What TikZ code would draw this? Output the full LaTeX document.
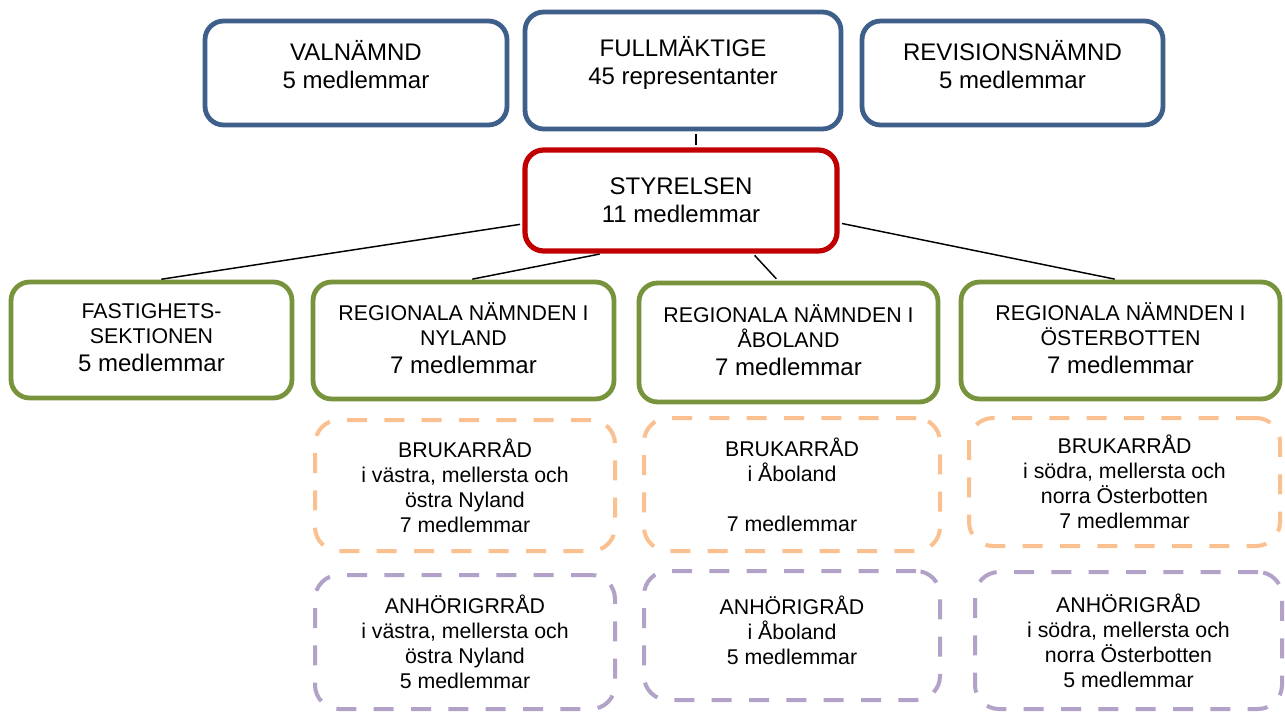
\documentclass[tikz,border=0pt]{standalone}
\usepackage{fontspec}
\setmainfont{Liberation Sans}
\usetikzlibrary{positioning}
\usetikzlibrary{calc}

\definecolor{boxblue}{HTML}{3E5F8A}
\definecolor{boxred}{HTML}{C00000}
\definecolor{boxgreen}{HTML}{77933C}
\definecolor{boxorange}{HTML}{FAC090}
\definecolor{boxpurple}{HTML}{B3A2C7}

\newcommand\bigtxt{\fontsize{18}{21}\selectfont}
\newcommand\smalltxt{\fontsize{16}{18.75}\selectfont}

\tikzset{
  orgbox/.style={draw, fill=white, rounded corners=14pt, line width=3.6pt, align=center, inner sep=0pt},
  topbox/.style={orgbox, draw=boxblue, font=\bigtxt, text depth=13.5pt},
  boardbox/.style={orgbox, draw=boxred, line width=3.9pt, font=\bigtxt},
  regbox/.style={orgbox, draw=boxgreen, font=\smalltxt, text depth=3pt},
  councilbox/.style={orgbox, rounded corners=18pt, line width=3pt, dash pattern=on 15pt off 13pt, font=\smalltxt},
  userbox/.style={councilbox, draw=boxorange},
  kinbox/.style={councilbox, draw=boxpurple},
  link/.style={line width=1.1pt, shorten <=1.8pt, shorten >=1.8pt}
}

\begin{document}
\begin{tikzpicture}[x=0.75pt, y=-0.75pt]
  % one unit is one pixel of the 1285 x 713 frame
  \def\px{0.75pt}
  \useasboundingbox (0,0) rectangle (1285,713);

  % top row
  \node[topbox, minimum width=302*\px, minimum height=104*\px] (val) at (356,73) {VALNÄMND\\5 medlemmar};
  \node[topbox, text depth=14.5pt, minimum width=316*\px, minimum height=117*\px] (ful) at (683,70.5) {FULLMÄKTIGE\\45 representanter};
  \node[topbox, minimum width=301*\px, minimum height=104*\px] (rev) at (1012.5,73) {REVISIONSNÄMND\\5 medlemmar};

  % board
  \node[boardbox, minimum width=312*\px, minimum height=101*\px] (sty) at (681,200.5) {STYRELSEN\\11 medlemmar};

  % sections and regional boards
  \node[regbox, minimum width=281*\px, minimum height=116*\px] (fast) at (151.5,340)
    {FASTIGHETS-\\SEKTIONEN\\[2.25pt]{\bigtxt 5 medlemmar}};
  \node[regbox, minimum width=301*\px, minimum height=117*\px] (nyl) at (463.5,340.5)
    {REGIONALA NÄMNDEN I\\NYLAND\\[2.25pt]{\bigtxt 7 medlemmar}};
  \node[regbox, minimum width=299*\px, minimum height=119*\px] (abo) at (788.5,342.5)
    {REGIONALA NÄMNDEN I\\ÅBOLAND\\[2.25pt]{\bigtxt 7 medlemmar}};
  \node[regbox, minimum width=319*\px, minimum height=117*\px] (ost) at (1120.5,340.5)
    {REGIONALA NÄMNDEN I\\ÖSTERBOTTEN\\[2.25pt]{\bigtxt 7 medlemmar}};

  % user councils
  \node[userbox, minimum width=300*\px, minimum height=131*\px] (bnyl) at (465,485.5)
    {BRUKARRÅD\\i västra, mellersta och\\östra Nyland\\7 medlemmar};
  \node[userbox, minimum width=296*\px, minimum height=133*\px] (babo) at (792,484.5)
    {BRUKARRÅD\\i Åboland\\ \\7 medlemmar};
  \node[userbox, minimum width=311*\px, minimum height=128*\px] (bost) at (1124.5,482)
    {BRUKARRÅD\\i södra, mellersta och\\norra Österbotten\\7 medlemmar};

  % relatives' councils
  \node[kinbox, minimum width=300*\px, minimum height=134*\px] (anyl) at (465,642)
    {ANHÖRIGRRÅD\\i västra, mellersta och\\östra Nyland\\5 medlemmar};
  \node[kinbox, text depth=7.5pt, minimum width=296*\px, minimum height=129*\px] (aabo) at (792,635.5)
    {ANHÖRIGRÅD\\i Åboland\\5 medlemmar};
  \node[kinbox, minimum width=307*\px, minimum height=137*\px] (aost) at (1128.5,640.5)
    {ANHÖRIGRÅD\\i södra, mellersta och\\norra Österbotten\\5 medlemmar};

  % connectors
  \draw[link] ($(ful.south)+(13,0)$) -- ($(sty.north)+(15,0)$);
  \draw[link] ($(sty.west)+(0,23.5)$) -- ($(fast.north)+(7.5,0)$);
  \draw[link] ($(sty.south)+(-79,0)$) -- ($(nyl.north)+(6.5,0)$);
  \draw[link] ($(sty.south)+(72,0)$) -- ($(abo.north)+(-10.5,0)$);
  \draw[link] ($(sty.east)+(0,22.5)$) -- ($(ost.north)+(-3.5,0)$);
\end{tikzpicture}
\end{document}
